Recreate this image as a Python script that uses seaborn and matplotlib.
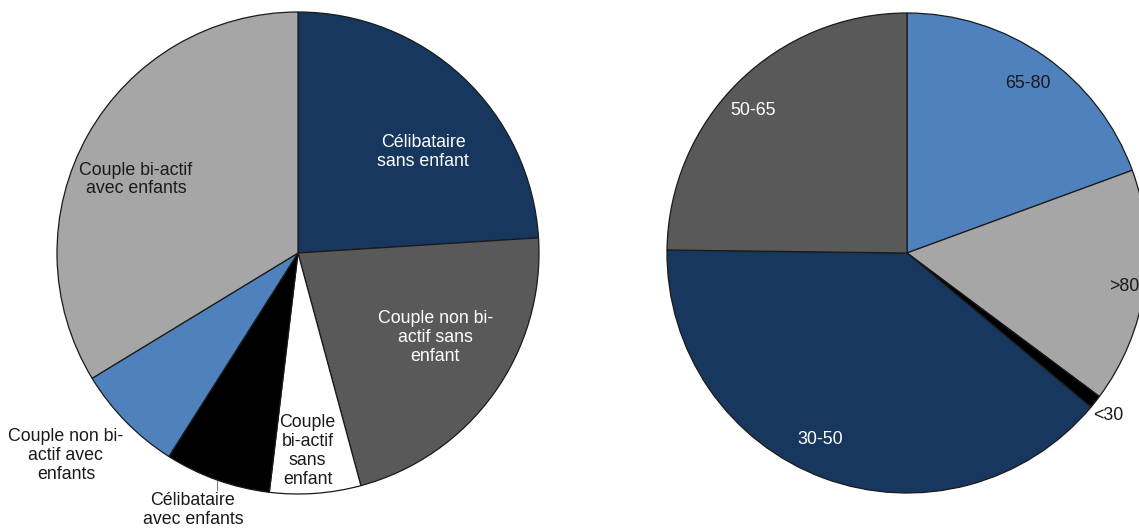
import matplotlib
matplotlib.use('Agg')
import matplotlib.pyplot as plt
import seaborn as sns
import numpy as np

sns.set_theme(style='white')
plt.rcParams['font.family'] = ['Liberation Sans', 'DejaVu Sans']

# left pie: household type (clockwise from 12 o'clock)
menage_labels = ['Célibataire\nsans enfant',
                 'Couple non bi-\nactif sans\nenfant',
                 'Couple\nbi-actif\nsans\nenfant',
                 'Célibataire\navec enfants',
                 'Couple non bi-\nactif avec\nenfants',
                 'Couple bi-actif\navec enfants']
menage_share = [24.0, 21.8, 6.1, 7.1, 7.3, 33.7]
menage_colors = ['#17375E', '#595959', '#FFFFFF', '#000000', '#4F81BD', '#A6A6A6']
menage_text = ['white', 'white', '#1a1a1a', '#1a1a1a', '#1a1a1a', '#1a1a1a']
# label positions (axes data units, pie radius = 1)
menage_pos = [(0.52, 0.42), (0.57, -0.35), (0.04, -0.82),
              (-0.436, -1.066), (-0.963, -0.842), (-0.672, 0.305)]

# right pie: age bracket
age_labels = ['65-80', '>80', '<30', '30-50', '50-65']
age_share = [19.4, 15.8, 0.9, 39.1, 24.8]
age_colors = ['#4F81BD', '#A6A6A6', '#000000', '#17375E', '#595959']
age_text = ['#1a1a1a', '#1a1a1a', '#1a1a1a', 'white', 'white']
age_pos = [(0.504, 0.708), (0.904, -0.138), (0.8375, -0.679),
           (-0.3625, -0.775), (-0.642, 0.592)]

W, H = 1139, 531
fig = plt.figure(figsize=(W / 100, H / 100), dpi=100)


def pie_axes(cx, cy, r):
    return fig.add_axes([(cx - r) / W, (H - cy - r) / H, 2 * r / W, 2 * r / H])


def draw_pie(ax, share, colors, labels, pos, tcolors):
    ax.pie(share, colors=colors, startangle=90, counterclock=False,
           wedgeprops=dict(edgecolor='#1a1a1a', linewidth=0.9),
           radius=1)
    ax.set_xlim(-1, 1)
    ax.set_ylim(-1, 1)
    ax.set_aspect('equal')
    ax.axis('off')
    for lab, (x, y), c in zip(labels, pos, tcolors):
        ax.text(x, y, lab, ha='center', va='center', color=c,
                fontsize=12.8, linespacing=1.15, clip_on=False)


ax1 = pie_axes(298, 253, 241)
draw_pie(ax1, menage_share, menage_colors, menage_labels, menage_pos, menage_text)
# leader line for the small black slice
ax1.plot([-0.336, -0.336], [-0.944, -0.985], color='#808080', lw=0.8, clip_on=False)

ax2 = pie_axes(907, 253, 240)
draw_pie(ax2, age_share, age_colors, age_labels, age_pos, age_text)

fig.savefig('out.png', dpi=100)
